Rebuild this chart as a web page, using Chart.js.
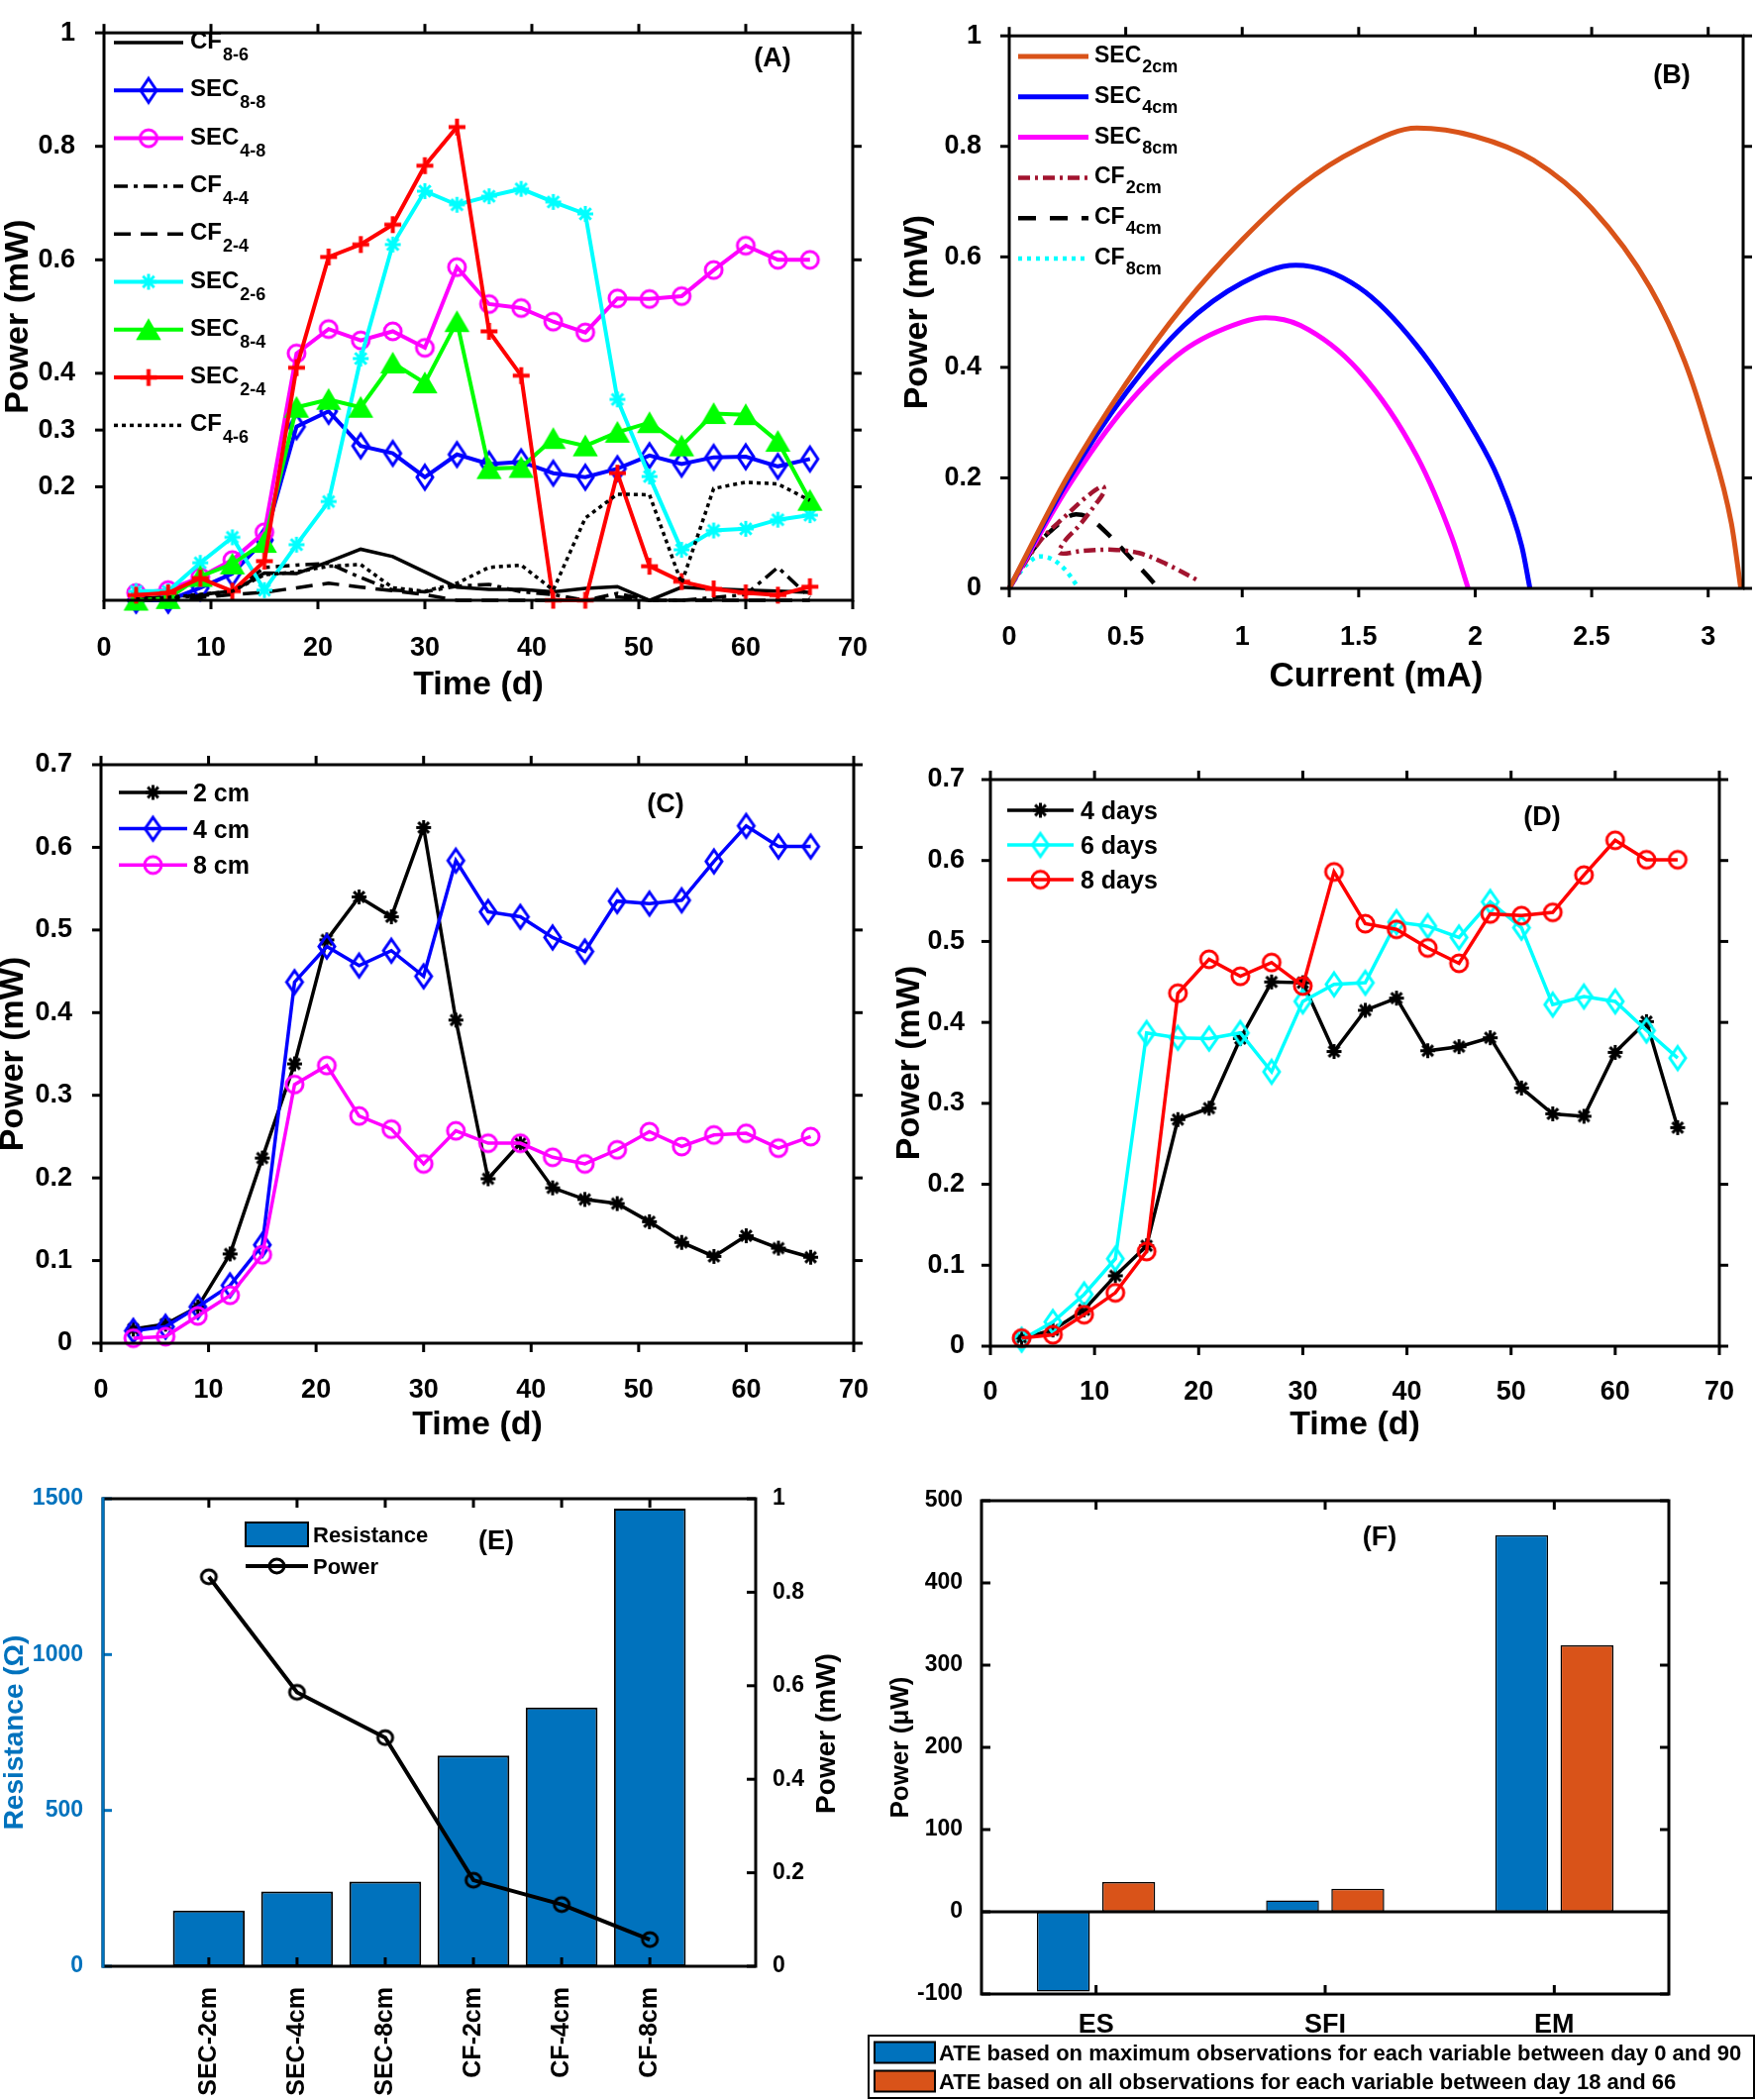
<!DOCTYPE html>
<html>
<head>
<meta charset="utf-8">
<title>Power output figure (A-F)</title>
<script src="https://cdn.jsdelivr.net/npm/chart.js@4.4.1/dist/chart.umd.min.js"></script>
<style>
  body { margin: 0; background: #fff; }
  #fig { position: relative; width: 1773px; height: 2120px; overflow: hidden; background: #fff; }
  #fig canvas { position: absolute; }
</style>
</head>
<body>
<div id="fig">
  <canvas id="chartA"></canvas>
  <canvas id="chartB"></canvas>
  <canvas id="chartC"></canvas>
  <canvas id="chartD"></canvas>
  <canvas id="chartE"></canvas>
  <canvas id="chartF"></canvas>
</div>
<script>
// ---------- data ----------
const days = [3, 6, 9, 12, 15, 18, 21, 24, 27, 30, 33, 36, 39, 42, 45, 48, 51, 54, 57, 60, 63, 66];

// panel A: power (mW) vs time
const aNames = ['CF', 'SEC', 'SEC', 'CF', 'CF', 'SEC', 'SEC', 'SEC', 'CF'];
const aSubs = ['8-6', '8-8', '4-8', '4-4', '2-4', '2-6', '8-4', '2-4', '4-6'];
const cf86 = [0.003, 0.006, 0.010, 0.016, 0.048, 0.047, 0.068, 0.090, 0.077, 0.050, 0.023, 0.019, 0.019, 0.015, 0.021, 0.024, 0.000, 0.023, 0.020, 0.018, 0.016, 0.014];
const sec88 = [0.000, 0.000, 0.022, 0.047, 0.106, 0.306, 0.333, 0.272, 0.259, 0.217, 0.257, 0.240, 0.244, 0.224, 0.217, 0.232, 0.255, 0.240, 0.252, 0.253, 0.236, 0.249];
const sec48 = [0.013, 0.018, 0.041, 0.071, 0.120, 0.435, 0.478, 0.458, 0.474, 0.445, 0.587, 0.522, 0.515, 0.491, 0.472, 0.532, 0.531, 0.536, 0.582, 0.625, 0.600, 0.600];
const cf44 = [0.002, 0.004, 0.008, 0.014, 0.058, 0.062, 0.065, 0.040, 0.018, 0.015, 0.025, 0.028, 0.015, 0.010, 0.000, 0.012, 0.000, 0.000, 0.005, 0.010, 0.058, 0.005];
const cf24 = [0.000, 0.002, 0.005, 0.010, 0.014, 0.022, 0.030, 0.023, 0.017, 0.010, 0.000, 0.000, 0.000, 0.000, 0.000, 0.006, 0.000, 0.000, 0.000, 0.000, 0.000, 0.000];
const sec26 = [0.016, 0.016, 0.066, 0.111, 0.018, 0.098, 0.174, 0.426, 0.627, 0.721, 0.697, 0.712, 0.725, 0.702, 0.681, 0.354, 0.218, 0.089, 0.123, 0.126, 0.142, 0.150];
const sec84 = [0.000, 0.003, 0.042, 0.064, 0.102, 0.340, 0.354, 0.340, 0.418, 0.383, 0.491, 0.232, 0.234, 0.285, 0.272, 0.296, 0.313, 0.272, 0.329, 0.327, 0.280, 0.176];
const sec24 = [0.009, 0.013, 0.039, 0.016, 0.069, 0.410, 0.605, 0.627, 0.662, 0.766, 0.834, 0.474, 0.396, 0.000, 0.000, 0.224, 0.060, 0.033, 0.020, 0.013, 0.009, 0.024];
const cf46 = [0.002, 0.005, 0.010, 0.016, 0.045, 0.050, 0.060, 0.063, 0.022, 0.016, 0.030, 0.058, 0.062, 0.018, 0.145, 0.187, 0.186, 0.030, 0.197, 0.208, 0.205, 0.176];

// panel B: power (mW) vs current (mA)
const bNames = ['SEC', 'SEC', 'SEC', 'CF', 'CF', 'CF'];
const bSubs = ['2cm', '4cm', '8cm', '2cm', '4cm', '8cm'];
const bSec2I = [0, 0.25, 0.5, 0.75, 1.0, 1.25, 1.5, 1.75, 2.0, 2.25, 2.5, 2.75, 2.9, 3.0, 3.1, 3.14];
const bSec2P = [0, 0.202, 0.370, 0.513, 0.631, 0.729, 0.796, 0.833, 0.818, 0.775, 0.688, 0.545, 0.410, 0.280, 0.117, 0];
const bSec4I = [0, 0.25, 0.5, 0.75, 1.0, 1.23, 1.5, 1.75, 2.0, 2.1, 2.2, 2.235];
const bSec4P = [0, 0.194, 0.353, 0.476, 0.553, 0.585, 0.545, 0.439, 0.280, 0.198, 0.076, 0];
const bSec8I = [0, 0.25, 0.5, 0.75, 1.0, 1.1, 1.25, 1.5, 1.75, 1.9, 1.97];
const bSec8P = [0, 0.182, 0.329, 0.431, 0.482, 0.490, 0.476, 0.394, 0.239, 0.092, 0];
const bCf2I = [0, 0.131, 0.244, 0.330, 0.400, 0.408, 0.372, 0.301, 0.237, 0.216, 0.316, 0.443, 0.557, 0.670, 0.812];
const bCf2P = [0, 0.085, 0.132, 0.165, 0.185, 0.176, 0.153, 0.114, 0.085, 0.064, 0.068, 0.070, 0.064, 0.045, 0.014];
const bCf4I = [0, 0.102, 0.173, 0.287, 0.337, 0.429, 0.528, 0.613, 0.639];
const bCf4P = [0, 0.070, 0.102, 0.134, 0.129, 0.096, 0.052, 0.0135, 0];
const bCf8I = [0, 0.031, 0.074, 0.131, 0.188, 0.244, 0.294];
const bCf8P = [0, 0.020, 0.043, 0.058, 0.052, 0.032, 0.003];

// panel C: electrode spacing
const cNames = ['2 cm', '4 cm', '8 cm'];
const c2 = [0.017, 0.023, 0.044, 0.108, 0.224, 0.338, 0.488, 0.540, 0.516, 0.624, 0.391, 0.199, 0.242, 0.188, 0.174, 0.169, 0.147, 0.122, 0.105, 0.130, 0.115, 0.104];
const c4 = [0.015, 0.020, 0.044, 0.070, 0.119, 0.437, 0.480, 0.457, 0.475, 0.444, 0.584, 0.522, 0.516, 0.491, 0.474, 0.535, 0.532, 0.536, 0.583, 0.626, 0.601, 0.601];
const c8 = [0.006, 0.008, 0.033, 0.058, 0.107, 0.313, 0.336, 0.275, 0.259, 0.217, 0.257, 0.242, 0.242, 0.225, 0.217, 0.234, 0.256, 0.238, 0.252, 0.254, 0.236, 0.250];

// panel D: feeding interval
const dNames = ['4 days', '6 days', '8 days'];
const d4 = [0.010, 0.020, 0.045, 0.087, 0.124, 0.280, 0.294, 0.380, 0.450, 0.449, 0.364, 0.415, 0.430, 0.365, 0.370, 0.381, 0.319, 0.287, 0.284, 0.363, 0.401, 0.270];
const d6 = [0.008, 0.030, 0.064, 0.108, 0.387, 0.381, 0.380, 0.387, 0.339, 0.426, 0.447, 0.449, 0.524, 0.519, 0.505, 0.549, 0.517, 0.422, 0.432, 0.426, 0.390, 0.356];
const d8 = [0.010, 0.014, 0.039, 0.066, 0.117, 0.436, 0.478, 0.457, 0.474, 0.445, 0.586, 0.522, 0.515, 0.492, 0.473, 0.534, 0.532, 0.536, 0.582, 0.625, 0.601, 0.601];

// panel E: internal resistance and max power
const eCats = ['SEC-2cm', 'SEC-4cm', 'SEC-8cm', 'CF-2cm', 'CF-4cm', 'CF-8cm'];
const eRes = [179, 240, 272, 676, 830, 1468];
const ePow = [0.833, 0.586, 0.489, 0.184, 0.132, 0.057];

// panel F: average treatment effect
const fCats = ['ES', 'SFI', 'EM'];
const fMaxObs = [-97, 14, 458];
const fAllObs = [36, 28, 324];
const fNames = ['ATE based on maximum observations for each variable between day 0 and 90',
                'ATE based on all observations for each variable between day 18 and 66'];

// tick lists
const ticks0to70 = [0, 10, 20, 30, 40, 50, 60, 70];
const ticksA = [0.2, 0.3, 0.4, 0.6, 0.8, 1];
const ticksB_x = [0, 0.5, 1, 1.5, 2, 2.5, 3];
const ticks0to1 = [0, 0.2, 0.4, 0.6, 0.8, 1];
const ticks0to07 = [0, 0.1, 0.2, 0.3, 0.4, 0.5, 0.6, 0.7];
const ticksE_res = [0, 500, 1000, 1500];
const ticksF = [-100, 0, 100, 200, 300, 400, 500];

// ---------- helpers ----------
const FONT = "'Liberation Sans', Arial, Helvetica, sans-serif";
Chart.defaults.font.family = FONT;
Chart.defaults.font.weight = 'bold';
Chart.defaults.font.size = 25;
Chart.defaults.color = '#000';
Chart.defaults.animation = false;
Chart.defaults.plugins.legend.display = false;
Chart.defaults.plugins.tooltip.enabled = false;

const fmt = v => String(Math.round(v * 1000) / 1000);

function place(id, left, top, w, h) {
    const c = document.getElementById(id);
    c.width = w; c.height = h;
    c.style.left = left + 'px'; c.style.top = top + 'px';
    c.style.width = w + 'px'; c.style.height = h + 'px';
    return c;
}

function marker(kind, color, w, h, lw, fill) {
    const c = document.createElement('canvas');
    c.width = Math.ceil(w + lw * 2 + 2);
    c.height = Math.ceil(h + lw * 2 + 2);
    const g = c.getContext('2d');
    g.translate(c.width / 2, c.height / 2);
    g.lineWidth = lw;
    g.strokeStyle = color;
    g.beginPath();
    if (kind === 'diamond') {
        g.moveTo(0, -h / 2); g.lineTo(w / 2, 0); g.lineTo(0, h / 2); g.lineTo(-w / 2, 0); g.closePath();
    } else if (kind === 'circle') {
        g.ellipse(0, 0, w / 2, h / 2, 0, 0, Math.PI * 2);
    } else if (kind === 'triangle') {
        g.moveTo(0, -h / 2); g.lineTo(w / 2, h / 2); g.lineTo(-w / 2, h / 2); g.closePath();
    } else if (kind === 'plus') {
        g.moveTo(-w / 2, 0); g.lineTo(w / 2, 0); g.moveTo(0, -h / 2); g.lineTo(0, h / 2);
    } else if (kind === 'star') {
        const r = w / 2, d = r * 0.72;
        g.moveTo(-r, 0); g.lineTo(r, 0); g.moveTo(0, -r); g.lineTo(0, r);
        g.moveTo(-d, -d); g.lineTo(d, d); g.moveTo(-d, d); g.lineTo(d, -d);
    }
    if (fill) { g.fillStyle = fill; g.fill(); }
    g.stroke();
    return c;
}

function linAxis(o) {
    return {
        type: 'linear', position: o.position, min: o.min, max: o.max, offset: false,
        grid: { display: false, offset: false }, border: { display: false },
        afterBuildTicks: s => { s.ticks = o.ticks.map(v => ({ value: v })); },
        afterFit: s => { if (s.isHorizontal()) s.height = o.size; else s.width = o.size; },
        ticks: {
            padding: o.pad, autoSkip: false, maxRotation: 0, color: o.color || '#000',
            font: { size: o.font || 25, lineHeight: o.lh || 1.2 }, callback: fmt
        },
        title: o.title ? {
            display: true, text: o.title, color: o.color || '#000',
            font: { size: o.titleSize || 34, lineHeight: o.titleLh || 1.1 }, padding: o.titlePad
        } : { display: false }
    };
}

function drawFrame(chart, f) {
    const { ctx, chartArea: a, scales } = chart;
    const xs = scales.x, yl = scales.y, yr = scales[f.right || 'y'];
    const s = f.dir === 'in' ? -1 : 1, len = f.len;
    const seg = (x1, y1, x2, y2, c) => {
        ctx.strokeStyle = c || '#000';
        ctx.beginPath(); ctx.moveTo(x1, y1); ctx.lineTo(x2, y2); ctx.stroke();
    };
    ctx.save();
    ctx.lineWidth = f.lw;
    if (f.zero) seg(a.left, yl.getPixelForValue(0), a.right, yl.getPixelForValue(0));
    xs.ticks.forEach(t => {
        const p = xs.getPixelForValue(t.value);
        seg(p, a.bottom, p, a.bottom + s * len);
        seg(p, a.top, p, a.top - s * len);
    });
    yl.ticks.forEach(t => {
        const p = yl.getPixelForValue(t.value);
        seg(a.left, p, a.left - s * len, p, f.leftColor);
    });
    yr.ticks.forEach(t => {
        const p = yr.getPixelForValue(t.value);
        seg(a.right, p, a.right + s * len, p);
    });
    ctx.strokeStyle = '#000';
    ctx.strokeRect(a.left, a.top, a.right - a.left, a.bottom - a.top);
    if (f.leftColor) seg(a.left, a.top - f.lw / 2, a.left, a.bottom + f.lw / 2, f.leftColor);
    ctx.restore();
}

function drawLegend(chart, lg) {
    if (!lg) return;
    const ctx = chart.ctx;
    ctx.save();
    if (lg.border) {
        ctx.lineWidth = 2; ctx.strokeStyle = '#000';
        ctx.strokeRect(lg.border[0], lg.border[1], lg.border[2], lg.border[3]);
    }
    chart.data.datasets.forEach((ds, i) => {
        const y = lg.y + i * lg.dy, x = lg.x, L = lg.lineLen;
        if (chart.getDatasetMeta(i).type === 'bar') {
            ctx.fillStyle = ds.backgroundColor;
            ctx.fillRect(x, y - lg.boxH / 2, L, lg.boxH);
            ctx.lineWidth = 2; ctx.strokeStyle = '#000';
            ctx.strokeRect(x, y - lg.boxH / 2, L, lg.boxH);
        } else {
            ctx.lineWidth = ds.borderWidth; ctx.strokeStyle = ds.borderColor;
            ctx.setLineDash(ds.borderDash || []);
            ctx.beginPath(); ctx.moveTo(x, y); ctx.lineTo(x + L, y); ctx.stroke();
            ctx.setLineDash([]);
            const m = ds.pointStyle;
            if (m && m.getContext) ctx.drawImage(m, x + L / 2 - m.width / 2, y - m.height / 2);
        }
        ctx.fillStyle = '#000'; ctx.textAlign = 'left'; ctx.textBaseline = 'alphabetic';
        ctx.font = lg.font;
        const tx = x + L + lg.gap;
        ctx.fillText(ds.label, tx, y + lg.mainDy);
        if (ds.sub) {
            const w = ctx.measureText(ds.label).width;
            ctx.font = lg.subFont;
            ctx.fillText(ds.sub, tx + w + 1, y + lg.subDy);
        }
    });
    ctx.restore();
}

function drawTags(ctx, tags) {
    (tags || []).forEach(t => {
        ctx.save();
        ctx.font = `bold ${t.size || 27}px ${FONT}`;
        ctx.fillStyle = t.color || '#000';
        ctx.textAlign = 'center'; ctx.textBaseline = 'middle';
        ctx.translate(t.x, t.y);
        if (t.rot) ctx.rotate(t.rot);
        ctx.fillText(t.text, 0, 0);
        ctx.restore();
    });
}

function decor(cfg) {
    return {
        id: 'decor',
        afterDatasetsDraw(chart) { drawFrame(chart, cfg.frame); },
        afterDraw(chart) { drawLegend(chart, cfg.legend); drawTags(chart.ctx, cfg.tags); }
    };
}

const pts = (xs, ys) => xs.map((x, i) => ({ x, y: ys[i] }));

function series(label, sub, ys, xs, color, style) {
    return Object.assign({
        label, sub, data: pts(xs, ys), borderColor: color, backgroundColor: color,
        borderWidth: 4, pointRadius: 5, tension: 0, fill: false, clip: false
    }, style);
}

// ---------- panel A ----------
place('chartA', 0, 0, 900, 720);
const mDiaBlue = marker('diamond', '#0000FF', 16, 24, 3);
const mCirMag = marker('circle', '#FF00FF', 17, 17, 3);
const mStarCyan = marker('star', '#00FFFF', 16, 16, 3);
const mTriGreen = marker('triangle', '#00FF00', 22, 19, 2, '#00FF00');
const mPlusRed = marker('plus', '#FF0000', 17, 17, 4);
const aSeries = [cf86, sec88, sec48, cf44, cf24, sec26, sec84, sec24, cf46];
const aStyles = [
    { borderColor: '#000', borderWidth: 3.5, pointRadius: 0 },
    { borderColor: '#0000FF', pointStyle: mDiaBlue },
    { borderColor: '#FF00FF', pointStyle: mCirMag },
    { borderColor: '#000', borderWidth: 3.5, pointRadius: 0, borderDash: [14, 6, 4, 6] },
    { borderColor: '#000', borderWidth: 3.5, pointRadius: 0, borderDash: [17, 10] },
    { borderColor: '#00FFFF', pointStyle: mStarCyan },
    { borderColor: '#00FF00', pointStyle: mTriGreen },
    { borderColor: '#FF0000', pointStyle: mPlusRed },
    { borderColor: '#000', borderWidth: 3.5, pointRadius: 0, borderDash: [4, 4] }
];
new Chart(document.getElementById('chartA'), {
    type: 'line',
    data: {
        datasets: aSeries.map((ys, i) => Object.assign(
            series(aNames[i], aSubs[i], ys, days, '#000', aStyles[i]), { order: -i }))
    },
    options: {
        responsive: false, devicePixelRatio: 1,
        layout: { padding: { left: 0, top: 13, right: 18, bottom: 0 } },
        scales: {
            x: linAxis({ min: 0, max: 70, ticks: ticks0to70, size: 114, pad: 24, font: 27,
                title: 'Time (d)', titlePad: { top: 0, bottom: 10 } }),
            y: linAxis({ min: 0, max: 1, ticks: ticksA, size: 105, pad: 21, font: 27, lh: 0.9,
                title: 'Power (mW)', titlePad: { top: 0, bottom: 0 } })
        }
    },
    plugins: [decor({
        frame: { dir: 'out', len: 9, lw: 3 },
        legend: { x: 115, y: 43, dy: 48.3, lineLen: 70, gap: 7, font: `bold 24px ${FONT}`,
            subFont: `bold 18px ${FONT}`, mainDy: 6, subDy: 18 },
        tags: [{ text: '(A)', x: 780, y: 60 }]
    })]
});

// ---------- panel B ----------
place('chartB', 900, 0, 873, 720);
const bX = [bSec2I, bSec4I, bSec8I, bCf2I, bCf4I, bCf8I];
const bY = [bSec2P, bSec4P, bSec8P, bCf2P, bCf4P, bCf8P];
const bStyles = [
    { borderColor: '#D95319', borderWidth: 5, cubicInterpolationMode: 'monotone' },
    { borderColor: '#0000FF', borderWidth: 5, cubicInterpolationMode: 'monotone' },
    { borderColor: '#FF00FF', borderWidth: 5, cubicInterpolationMode: 'monotone' },
    { borderColor: '#A2142F', borderWidth: 4.5, tension: 0.35, borderDash: [12, 5, 3, 5] },
    { borderColor: '#000', borderWidth: 4.5, cubicInterpolationMode: 'monotone', borderDash: [18, 14] },
    { borderColor: '#00FFFF', borderWidth: 4.5, cubicInterpolationMode: 'monotone', borderDash: [4, 5] }
];
new Chart(document.getElementById('chartB'), {
    type: 'line',
    data: {
        datasets: bY.map((ys, i) => Object.assign(
            series(bNames[i], bSubs[i], ys, bX[i], '#000', bStyles[i]), { pointRadius: 0 }))
    },
    options: {
        responsive: false, devicePixelRatio: 1,
        layout: { padding: { left: 0, top: 31, right: 13, bottom: 0 } },
        scales: {
            x: linAxis({ min: 0, max: 3.15, ticks: ticksB_x, size: 126, pad: 25, font: 27,
                title: 'Current (mA)', titleSize: 35, titlePad: { top: 0, bottom: 17 } }),
            y: linAxis({ min: 0, max: 1, ticks: ticks0to1, size: 119, pad: 20, font: 27,
                title: 'Power (mW)', titlePad: { top: 8, bottom: 0 } })
        }
    },
    plugins: [decor({
        frame: { dir: 'out', len: 9, lw: 3 },
        legend: { x: 128, y: 57, dy: 40.8, lineLen: 71, gap: 6, font: `bold 23px ${FONT}`,
            subFont: `bold 18px ${FONT}`, mainDy: 6, subDy: 16 },
        tags: [{ text: '(B)', x: 788, y: 77 }]
    })]
});

// ---------- panel C ----------
place('chartC', 0, 730, 900, 730);
const mStarBlack = marker('star', '#000', 15, 15, 3);
const mDiaBlue2 = marker('diamond', '#0000FF', 16, 23, 3);
const mCirMag2 = marker('circle', '#FF00FF', 17, 17, 3);
const timeAxes = (xh, yw, ypad, xpad, ytp) => ({
    x: linAxis({ min: 0, max: 70, ticks: ticks0to70, size: xh, pad: xpad, font: 27,
        title: 'Time (d)', titlePad: { top: 0, bottom: 3 } }),
    y: linAxis({ min: 0, max: 0.7, ticks: ticks0to07, size: yw, pad: ypad, font: 27,
        title: 'Power (mW)', titleLh: 1.0, titlePad: { top: ytp, bottom: 0 } })
});
new Chart(document.getElementById('chartC'), {
    type: 'line',
    data: {
        datasets: [
            series(cNames[0], '', c2, days, '#000', { borderWidth: 3.5, pointStyle: mStarBlack }),
            series(cNames[1], '', c4, days, '#0000FF', { borderWidth: 3.5, pointStyle: mDiaBlue2 }),
            series(cNames[2], '', c8, days, '#FF00FF', { borderWidth: 3.5, pointStyle: mCirMag2 })
        ].map((d, i) => Object.assign(d, { order: -i }))
    },
    options: {
        responsive: false, devicePixelRatio: 1,
        layout: { padding: { left: 0, top: 42, right: 30, bottom: 0 } },
        scales: timeAxes(104, 102, 21, 23, -3)
    },
    plugins: [decor({
        frame: { dir: 'out', len: 9, lw: 3 },
        legend: { x: 120, y: 70, dy: 36.6, lineLen: 69, gap: 6, font: `bold 25px ${FONT}`, mainDy: 9 },
        tags: [{ text: '(C)', x: 672, y: 83 }]
    })]
});

// ---------- panel D ----------
place('chartD', 900, 730, 873, 730);
const mDiaCyan = marker('diamond', '#00FFFF', 16, 23, 3);
const mCirRed = marker('circle', '#FF0000', 17, 17, 3);
new Chart(document.getElementById('chartD'), {
    type: 'line',
    data: {
        datasets: [
            series(dNames[0], '', d4, days, '#000', { borderWidth: 3.5, pointStyle: mStarBlack }),
            series(dNames[1], '', d6, days, '#00FFFF', { borderWidth: 3.5, pointStyle: mDiaCyan }),
            series(dNames[2], '', d8, days, '#FF0000', { borderWidth: 3.5, pointStyle: mCirRed })
        ].map((d, i) => Object.assign(d, { order: -i }))
    },
    options: {
        responsive: false, devicePixelRatio: 1,
        layout: { padding: { left: 0, top: 57, right: 23, bottom: 0 } },
        scales: timeAxes(101, 100, 18, 22, 2)
    },
    plugins: [decor({
        frame: { dir: 'out', len: 9, lw: 3 },
        legend: { x: 117, y: 88, dy: 35, lineLen: 67, gap: 7, font: `bold 25px ${FONT}`, mainDy: 9 },
        tags: [{ text: '(D)', x: 657, y: 96 }]
    })]
});

// ---------- panel E ----------
place('chartE', 0, 1470, 880, 650);
const eIdx = eCats.map((c, i) => i);
const mCirBlack = marker('circle', '#000', 15, 14, 3);
const eX = linAxis({ min: -1.2, max: 6.2, ticks: eIdx, size: 135, pad: 13, font: 25 });
eX.ticks.callback = v => eCats[v];
eX.ticks.minRotation = 90;
eX.ticks.maxRotation = 90;
new Chart(document.getElementById('chartE'), {
    type: 'bar',
    data: {
        datasets: [
            { type: 'bar', label: 'Resistance', data: pts(eIdx, eRes), backgroundColor: '#0072BD',
              borderColor: '#000', borderWidth: 2, borderSkipped: false,
              barPercentage: 0.815, categoryPercentage: 1, yAxisID: 'y', order: 2 },
            { type: 'line', label: 'Power', data: pts(eIdx, ePow), borderColor: '#000', borderWidth: 4,
              pointStyle: mCirBlack, pointRadius: 5, tension: 0, yAxisID: 'y1', order: 1, clip: false }
        ]
    },
    options: {
        responsive: false, devicePixelRatio: 1,
        layout: { padding: { left: 0, top: 43, right: 0, bottom: 0 } },
        scales: {
            x: eX,
            y: linAxis({ position: 'left', min: 0, max: 1500, ticks: ticksE_res, size: 104, pad: 12, font: 23,
                color: '#0072BD', title: 'Resistance (\u03A9)', titleSize: 28, titlePad: { top: 0, bottom: 0 } }),
            y1: linAxis({ position: 'right', min: 0, max: 1, ticks: ticks0to1, size: 117, pad: 9, font: 23 })
        }
    },
    plugins: [decor({
        frame: { dir: 'in', len: 9, lw: 3, right: 'y1', leftColor: '#0072BD' },
        legend: { x: 248, y: 79, dy: 32, lineLen: 63, gap: 5, font: `bold 22px ${FONT}`, mainDy: 8, boxH: 24 },
        tags: [{ text: '(E)', x: 501, y: 87 },
               { text: 'Power (mW)', x: 835, y: 280, rot: -Math.PI / 2, size: 28 }]
    })]
});

// ---------- panel F ----------
place('chartF', 870, 1470, 903, 650);
const fY = linAxis({ min: -100, max: 500, ticks: ticksF, size: 121, pad: 11, font: 23,
    title: 'Power (\u03BCW)', titleSize: 26, titlePad: { top: 26, bottom: 0 } });
new Chart(document.getElementById('chartF'), {
    type: 'bar',
    data: {
        labels: fCats,
        datasets: [
            { label: fNames[0], data: fMaxObs, backgroundColor: '#0072BD', borderColor: '#000', borderWidth: 1.5,
              borderSkipped: false, categoryPercentage: 0.57, barPercentage: 0.81 },
            { label: fNames[1], data: fAllObs, backgroundColor: '#D95319', borderColor: '#000', borderWidth: 1.5,
              borderSkipped: false, categoryPercentage: 0.57, barPercentage: 0.81 }
        ]
    },
    options: {
        responsive: false, devicePixelRatio: 1,
        layout: { padding: { left: 0, top: 45, right: 88, bottom: 0 } },
        scales: {
            x: {
                type: 'category', offset: true,
                grid: { display: false }, border: { display: false },
                afterFit: s => { s.height = 107; },
                ticks: { padding: 7, font: { size: 27 }, maxRotation: 0 }
            },
            y: fY
        }
    },
    plugins: [decor({
        frame: { dir: 'in', len: 9, lw: 3, zero: true },
        legend: { x: 13, y: 602, dy: 29, lineLen: 61, gap: 4, font: `bold 22px ${FONT}`, mainDy: 8,
            boxH: 21, border: [7, 585, 894, 63] },
        tags: [{ text: '(F)', x: 523, y: 83 }]
    })]
});
</script>
</body>
</html>
